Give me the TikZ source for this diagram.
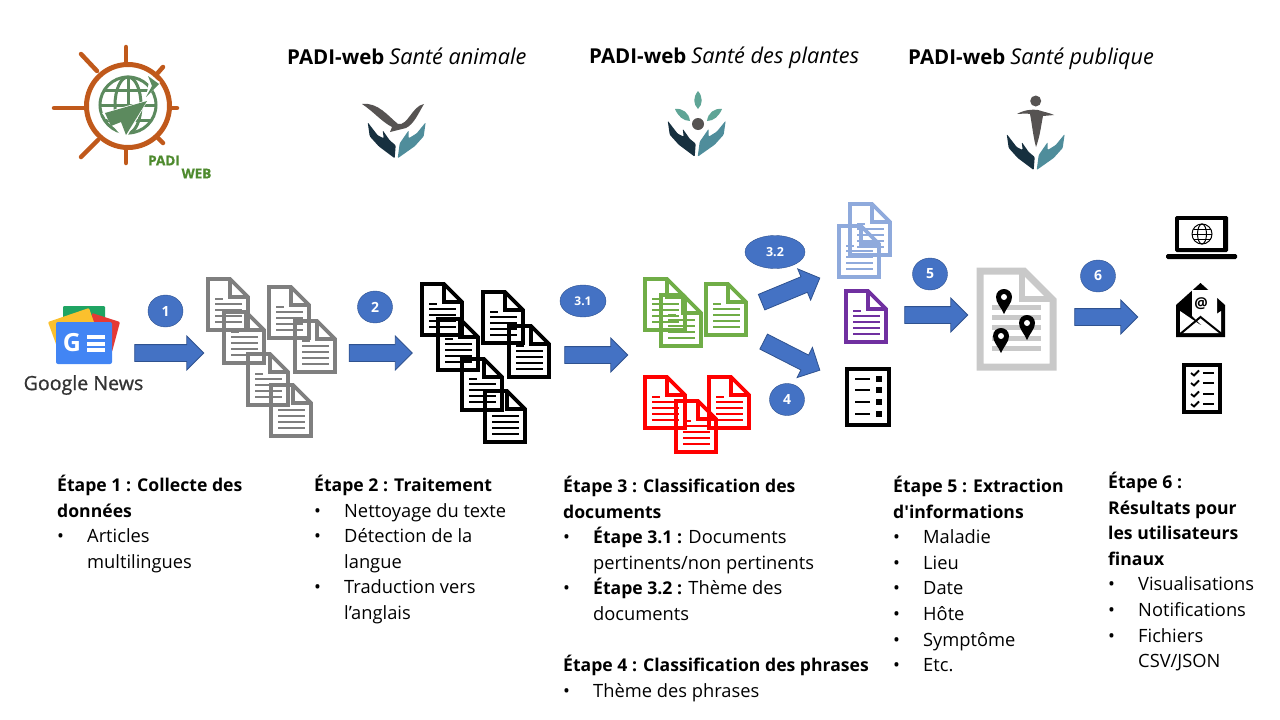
\documentclass[tikz,border=0pt]{standalone}
\usepackage{fontspec}
\setmainfont{Open Sans}[Ligatures=TeXOff]
\usetikzlibrary{shapes, arrows, calc, arrows.meta, positioning}
\definecolor{bluearrow}{HTML}{4472C4}
\definecolor{blueedge}{HTML}{2F528F}
\definecolor{docgrey}{HTML}{7F7F7F}
\definecolor{docgreen}{HTML}{70AD47}
\definecolor{docblue}{HTML}{8FAADC}
\definecolor{docpurple}{HTML}{7030A0}
\definecolor{docpale}{HTML}{C9C9C9}
\definecolor{wheelorange}{HTML}{C0591B}
\definecolor{globegreen}{HTML}{5C8A5E}
\definecolor{padigreen}{HTML}{4E8A2E}
\definecolor{handdark}{HTML}{17303F}
\definecolor{handteal}{HTML}{4F8D9B}
\definecolor{leafteal}{HTML}{5FA596}
\definecolor{logogrey}{HTML}{565352}
\definecolor{newsgreen}{HTML}{1FA463}
\definecolor{newsyellow}{HTML}{FBC02D}
\definecolor{newsred}{HTML}{E53935}
\definecolor{newsblue}{HTML}{4285F4}
\newcommand{\puce}{\makebox[30pt][l]{•}}
\newcommand{\suite}{\hspace*{30pt}}
\newcommand{\gras}[1]{{\fontsize{17.6}{25.6}\selectfont\bfseries #1}}
\newcommand{\enteteg}[1]{{\fontsize{20.5}{24}\selectfont\bfseries #1}}
\newcommand{\entetei}[1]{{\fontsize{21.7}{24}\selectfont\itshape #1}}
\tikzset{
    blockarrow/.style={single arrow, draw=blueedge, fill=bluearrow, line width=0.8,
      inner sep=8pt, outer sep=0pt, single arrow head extend=8.5pt,
      single arrow tip angle=90, single arrow head indent=0pt, minimum height=63pt},
    stepmark/.style={ellipse, draw=blueedge, fill=bluearrow, text=white, inner sep=0pt,
      minimum width=35pt, minimum height=32pt, font=\fontsize{14}{16}\selectfont\bfseries},
    headtitle/.style={anchor=west, inner sep=0pt},
    padilabel/.style={inner sep=0pt, text=padigreen, font=\fontsize{13.5}{14}\selectfont\bfseries\addfontfeature{FakeBold=1}},
    stepblock/.style={anchor=north west, inner sep=0pt, align=left, font=\fontsize{18.3}{25.6}\selectfont},
    pics/docicon/.style={code={
      \draw[#1, line width=3.8, line join=miter] (2,2) -- (24,2) -- (42,20) -- (42,53) -- (2,53) -- cycle;
      \draw[#1, line width=3.2] (24,2) -- (24,20) -- (42,20);
      \draw[#1, line width=2.6] (9,22) -- (17,22);
      \foreach \ly in {27,33,39,45} \draw[#1, line width=2.6] (9,\ly) -- (36,\ly);
    }},
    pics/handslogo/.style={code={
      \fill[handdark, rounded corners=1pt] (-2,0) -- (-18,-12) -- (-27,-22) -- (-29,-36) -- (-19,-23) -- (-13,-20) -- (-14,-28) -- (-7,-18) -- (-1,-13) -- cycle;
      \fill[handteal, rounded corners=1pt] (1,0) -- (18,-12) -- (27,-22) -- (29,-36) -- (20,-25) -- (12,-20) -- (12,-28) -- (3,-15) -- cycle;
    }},
    pics/mappin/.style={code={
      \fill[black] (0,24) .. controls (-3,17) and (-8,13) .. (-8,7) .. controls (-8,2) and (-4,-1) .. (0,-1)
        .. controls (4,-1) and (8,2) .. (8,7) .. controls (8,13) and (3,17) .. (0,24);
      \fill[white] (0,7) circle[radius=3];
    }}
}
\begin{document}
\begin{tikzpicture}[x=1pt,y=-1pt]
  \useasboundingbox (0,0) rectangle (1280,720);

  % logo
  \draw[wheelorange, line width=5] (128,106) circle[radius=41.5];
  \foreach \xa/\ya/\xb/\yb in {126/47/126/62, 126/150/126/163, 54/108/86/108, 170/108/177/108, 81/54/97/71, 163/67/156/75, 163/143/157/137, 81/157/98/140}
    \draw[wheelorange, line width=4.5, line cap=round] (\xa,\ya) -- (\xb,\yb);
  \begin{scope}[globegreen, line width=3]
    \draw (128,105) circle[radius=28];
    \draw (128,105) ellipse[x radius=13, y radius=28];
    \draw (128,77) -- (128,133);
    \draw (100,105) -- (156,105);
    \draw (105,90) -- (151,90);
    \draw (105,120) -- (151,120);
    \fill[white] (102,113) -- (148,100) -- (125,140) -- cycle;
    \fill (105,113) -- (147,101) -- (126,135) -- (121,122) -- (111,126) -- cycle;
    \fill[white] (150,76) -- (160,82) -- (146,98) -- cycle;
    \fill (148,76) -- (159,84) -- (146,97) -- (152,86) -- cycle;
  \end{scope}
  \node[padilabel] (padi) at (164,160.5) {PADI};
  \node[padilabel] (web) at (196.5,173.5) {WEB};

  % titres
  \node[headtitle] (animale) at (287,56) {\enteteg{PADI-web}\hspace{5pt}\entetei{Santé animale}};
  \node[headtitle] (plantes) at (589,58) {\enteteg{PADI-web}\hspace{5pt}\entetei{Santé des plantes}};
  \node[headtitle] (publique) at (908,59) {\enteteg{PADI-web}\hspace{5pt}\entetei{Santé publique}};

  % santé animale
  \pic (mainsa) at (396.7,158.3) {handslogo};
  \fill[logogrey] (362,104) .. controls (378,102) and (388,116) .. (398,124) .. controls (408,126) and (412,106) .. (424,104)
    .. controls (418,114) and (414,124) .. (406,128) -- (390,132) -- (392,127) .. controls (382,122) and (374,112) .. cycle;
  % santé des plantes
  \pic (mainsp) at (696.7,156.7) {handslogo};
  \fill[logogrey] (698,124) circle[radius=6];
  \fill[leafteal] (698,91) .. controls (703,97) and (703,104) .. (698,109) .. controls (693,104) and (693,97) .. (698,91);
  \fill[leafteal] (675,109) .. controls (683,108) and (689,113) .. (690,121) .. controls (683,121) and (678,116) .. (675,109);
  \fill[leafteal] (722,109) .. controls (714,108) and (708,113) .. (707,121) .. controls (714,121) and (719,116) .. (722,109);
  % santé publique
  \pic (mainspu) at (1035.7,170) {handslogo};
  \fill[logogrey] (1035.7,101) circle[radius=5.5];
  \fill[logogrey] (1017,114) .. controls (1024,110) and (1032,109) .. (1038,110) .. controls (1044,112) and (1050,113) .. (1054,115)
    -- (1043,116) .. controls (1041,126) and (1040,136) .. (1036,147) .. controls (1033,136) and (1032,124) .. (1030,114) .. controls (1026,113) and (1021,114) .. cycle;

  % google news
  \fill[rounded corners=1pt, newsgreen] (63,306) rectangle (105,322);
  \fill[rounded corners=1pt, newsred] (92,313) -- (120,322) -- (112,352) -- (92,352) -- cycle;
  \fill[rounded corners=1pt, newsyellow] (48,322) -- (89,308) -- (95,325) -- (60,355) -- cycle;
  \fill[rounded corners=2pt, newsblue] (56,322) rectangle (112,364);
  \node[inner sep=0pt, text=white, font=\fontsize{25}{26}\selectfont\bfseries] (gletter) at (72,343) {G};
  \foreach \ly in {337,343.5,350} \fill[white] (87,\ly-2) rectangle (105,\ly+2);
  \node[inner sep=0pt, text=black!80, font=\fontsize{19.6}{22}\selectfont\addfontfeature{FakeBold=1}] (gnews) at (83.5,385) {Google News};

  % documents
  \foreach \nm/\dx/\dy in {a/206/277, b/222/310, c/267/285, d/293/319, e/246/352, f/269/383}
    \pic (gris\nm) at (\dx,\dy) {docicon=docgrey};
  \foreach \nm/\dx/\dy in {a/420/282, b/436/317, c/481/290, d/507/324, e/460/357, f/483/389}
    \pic (noir\nm) at (\dx,\dy) {docicon=black};
  \foreach \nm/\dx/\dy in {a/643/277, b/659/293, c/704/282}
    \pic (vert\nm) at (\dx,\dy) {docicon=docgreen};
  \foreach \nm/\dx/\dy in {a/643/375, b/707/375, c/674/399}
    \pic (rouge\nm) at (\dx,\dy) {docicon=red};
  \foreach \nm/\dx/\dy in {a/848/202, b/837/224}
    \pic (bleu\nm) at (\dx,\dy) {docicon=docblue};
  \pic (violet) at (844,289) {docicon=docpurple};

  % liste phrases
  \draw[black, line width=3.6] (847,369) rectangle (889,425);
  \foreach \ly in {379,390,402,414} {
    \draw[line width=2.2] (855,\ly) -- (870,\ly);
    \fill (876,\ly-3) rectangle (882,\ly+3);
  }

  % document extraction
  \draw[docpale, line width=7] (980,271) -- (1024,271) -- (1053,300) -- (1053,367) -- (980,367) -- cycle;
  \draw[docpale, line width=6] (1022,271) -- (1022,299) -- (1053,299);
  \foreach \ly in {307,317,327,338,348} \fill[docpale] (992,\ly-2.5) rectangle (1041,\ly+2.5);
  \pic (pinb) at (1004,290) {mappin};
  \pic (pinc) at (1027,316) {mappin};
  \pic (pind) at (1001,329) {mappin};

  % laptop
  \fill[rounded corners=1.5pt] (1175,216) rectangle (1228,252);
  \fill[white] (1179,220) rectangle (1223,248);
  \fill[rounded corners=1.5pt] (1166,254) rectangle (1237,259);
  \begin{scope}[line width=1]
    \draw (1202,234) circle[radius=10];
    \draw (1202,234) ellipse[x radius=4.5, y radius=10];
    \draw (1192,234) -- (1212,234);
    \draw (1193.5,229) -- (1210.5,229);
    \draw (1193.5,239) -- (1210.5,239);
  \end{scope}

  % enveloppe
  \fill (1176,305) -- (1200.5,283) -- (1225,305) -- (1225,337) -- (1176,337) -- cycle;
  \fill[white] (1192,290) -- (1217,290) -- (1217,316) -- (1201,325) -- (1192,316) -- cycle;
  \fill[white] (1180,311) -- (1200.5,325) -- (1221,311) -- (1221,333) -- (1180,333) -- cycle;
  \draw[line width=2] (1179,335) -- (1200.5,317) -- (1223,335);
  \node[inner sep=0pt, font=\fontsize{15}{16}\selectfont\bfseries] (arobase) at (1201,304) {@};

  % checklist
  \draw[line width=3.5] (1184,365) rectangle (1220,412);
  \foreach \ly in {373,383,394,404} {
    \draw[line width=1.8] (1191,\ly) -- (1194,\ly+2.5) -- (1199,\ly-2.5);
    \draw[line width=1.8] (1203,\ly) -- (1214,\ly);
  }

  % fleches
  \node[blockarrow, minimum height=69pt] (fleche1) at (165,353) {};
  \node[blockarrow] (fleche2) at (376.5,353) {};
  \node[blockarrow] (fleche3) at (592,355) {};
  \node[blockarrow, rotate=22.5] (fleche32) at (786.8,291.7) {};
  \node[blockarrow, rotate=-27] (fleche4) at (788,354) {};
  \node[blockarrow] (fleche5) at (932,315) {};
  \node[blockarrow] (fleche6) at (1102,317) {};

  \node[stepmark] (num1) at (165.5,311) {1};
  \node[stepmark] (num2) at (375,307) {2};
  \node[stepmark, minimum width=46pt, font=\fontsize{12}{14}\selectfont\bfseries] (num31) at (583,301) {3.1};
  \node[stepmark, minimum width=60pt, minimum height=33pt, font=\fontsize{12.5}{14}\selectfont\bfseries] (num32) at (775,252) {3.2};
  \node[stepmark] (num4) at (787,399.5) {4};
  \node[stepmark] (num5) at (930,274) {5};
  \node[stepmark] (num6) at (1098,276) {6};

  % textes
  \node[stepblock] (etape1) at (57,475) {\gras{Étape 1 : Collecte des}\\\gras{données}\\\puce Articles\\\suite multilingues};
  \node[stepblock] (etape2) at (314,475) {\gras{Étape 2 : Traitement}\\\puce Nettoyage du texte\\\puce Détection de la\\\suite langue\\\puce Traduction vers\\\suite l’anglais};
  \node[stepblock] (etape3) at (563,476) {\gras{Étape 3 : Classification des}\\\gras{documents}\\\puce\gras{Étape 3.1 :} Documents\\\suite pertinents/non pertinents\\\puce\gras{Étape 3.2 :} Thème des\\\suite documents\\[25.6pt]\gras{Étape 4 : Classification des phrases}\\\puce Thème des phrases};
  \node[stepblock] (etape5) at (893,476) {\gras{Étape 5 : Extraction}\\\gras{d'informations}\\\puce Maladie\\\puce Lieu\\\puce Date\\\puce Hôte\\\puce Symptôme\\\puce Etc.};
  \node[stepblock] (etape6) at (1108,472) {\gras{Étape 6 :}\\\gras{Résultats pour}\\\gras{les utilisateurs}\\\gras{finaux}\\\puce Visualisations\\\puce Notifications\\\puce Fichiers\\\suite CSV/JSON};
\end{tikzpicture}
\end{document}
